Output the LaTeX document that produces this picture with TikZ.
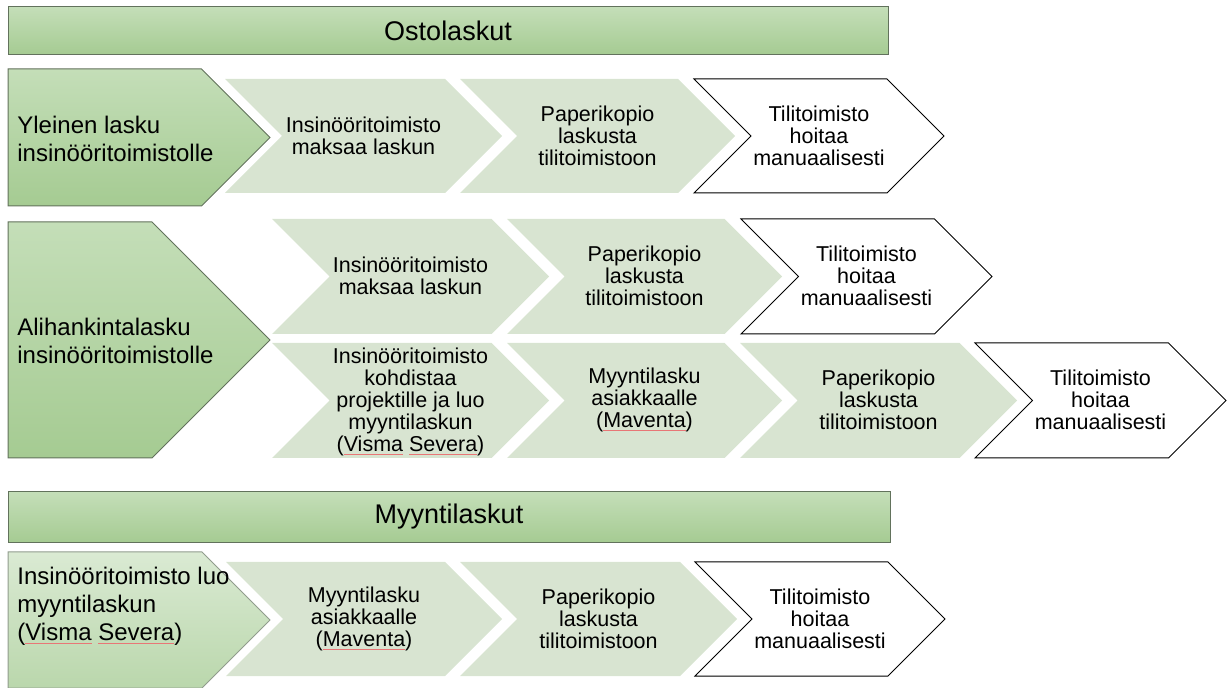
\documentclass[tikz,border=0pt]{standalone}
\usepackage{fontspec}
\setmainfont{Liberation Sans}
\usetikzlibrary{positioning}

\definecolor{chevgreen}{RGB}{216,228,209}
\definecolor{bartop}{RGB}{196,222,184}
\definecolor{barbottom}{RGB}{165,203,146}
\definecolor{softtop}{RGB}{218,234,211}
\definecolor{softbottom}{RGB}{186,215,172}
\definecolor{barline}{RGB}{98,114,92}
\definecolor{spellred}{RGB}{232,118,118}

% squiggle of the spell checker under a word
\newcommand{\spellmark}[1]{{\color{spellred}\underline{\color{black}#1}}}

% chevron: style, left, top, width, height
\newcommand{\chev}[5]{%
  \path[#1] (#2,#3) -- ++({#4-#5/2},0) -- ++({#5/2},{#5/2}) -- ++({-#5/2},{#5/2})
    -- ({#2},{#3+#5}) -- ++({#5/2},{-#5/2}) -- cycle;}
% pentagon with a flat left side
\newcommand{\pent}[5]{%
  \path[#1] (#2,#3) -- ++({#4-#5/2},0) -- ++({#5/2},{#5/2}) -- ++({-#5/2},{#5/2})
    -- ({#2},{#3+#5}) -- cycle;}

\begin{document}
\begin{tikzpicture}[
    x=0.5pt, y=-0.5pt,
    lightchev/.style={fill=chevgreen},
    plainchev/.style={fill=white, draw=black, line width=0.5pt},
    greenbar/.style={top color=bartop, bottom color=barbottom, draw=barline, line width=0.5pt},
    softbar/.style={top color=softtop, bottom color=softbottom, draw=barline!70, line width=0.5pt},
    chevtext/.style={font=\fontsize{10.75}{10.9}\selectfont, align=center},
    sidetext/.style={font=\fontsize{12}{14}\selectfont, align=left, anchor=west, inner sep=0pt},
    headtext/.style={font=\fontsize{13.5}{16}\selectfont}
]
\useasboundingbox (0,0) rectangle (1230,688);

% Ostolaskut
\path[greenbar] (8,7) rectangle (888,55);
\node[headtext] (osto) at (448,31) {Ostolaskut};

% row 1
\pent{greenbar}{8}{69}{262}{137}
\node[sidetext] (yleinen) at (17,139) {Yleinen lasku\\insinööritoimistolle};
\chev{lightchev}{225}{79}{277}{114}
\chev{lightchev}{460}{79}{275}{114}
\chev{plainchev}{694}{79}{250}{114}
\node[chevtext] (y1) at (363.5,136) {Insinööritoimisto\\maksaa laskun};
\node[chevtext] (y2) at (597.5,136) {Paperikopio\\laskusta\\tilitoimistoon};
\node[chevtext] (y3) at (819,136) {Tilitoimisto\\hoitaa\\manuaalisesti};

% row 2
\pent{greenbar}{8}{222}{262}{236}
\node[sidetext] (ali) at (17,341) {Alihankintalasku\\insinööritoimistolle};
\chev{lightchev}{272}{219}{277}{115}
\chev{lightchev}{507}{219}{275}{115}
\chev{plainchev}{741}{219}{251}{115}
\node[chevtext] (a1) at (410.5,276) {Insinööritoimisto\\maksaa laskun};
\node[chevtext] (a2) at (644.5,276) {Paperikopio\\laskusta\\tilitoimistoon};
\node[chevtext] (a3) at (866.5,276) {Tilitoimisto\\hoitaa\\manuaalisesti};
\chev{lightchev}{272}{343}{277}{115}
\chev{lightchev}{507}{343}{275}{115}
\chev{lightchev}{740}{343}{277}{115}
\chev{plainchev}{975}{343}{251}{115}
\node[chevtext] (b1) at (410.5,402) {Insinööritoimisto\\kohdistaa\\projektille ja luo\\myyntilaskun\\(\spellmark{Visma} \spellmark{Severa})};
\node[chevtext] (b2) at (644.5,400) {Myyntilasku\\asiakkaalle\\(\spellmark{Maventa})};
\node[chevtext] (b3) at (878.5,400) {Paperikopio\\laskusta\\tilitoimistoon};
\node[chevtext] (b4) at (1100.5,400) {Tilitoimisto\\hoitaa\\manuaalisesti};

% Myyntilaskut
\path[greenbar] (8,492) rectangle (890,543);
\node[headtext] (myynti) at (449,517) {Myyntilaskut};

% row 3
\pent{softbar}{8}{552}{262}{136}
\node[sidetext] (luo) at (17,606) {Insinööritoimisto luo\\myyntilaskun\\(\spellmark{Visma} \spellmark{Severa})};
\chev{lightchev}{226}{562}{276}{114}
\chev{lightchev}{460}{562}{277}{114}
\chev{plainchev}{695}{562}{250}{114}
\node[chevtext] (m1) at (364,619) {Myyntilasku\\asiakkaalle\\(\spellmark{Maventa})};
\node[chevtext] (m2) at (598.5,619) {Paperikopio\\laskusta\\tilitoimistoon};
\node[chevtext] (m3) at (820,619) {Tilitoimisto\\hoitaa\\manuaalisesti};

\end{tikzpicture}
\end{document}
